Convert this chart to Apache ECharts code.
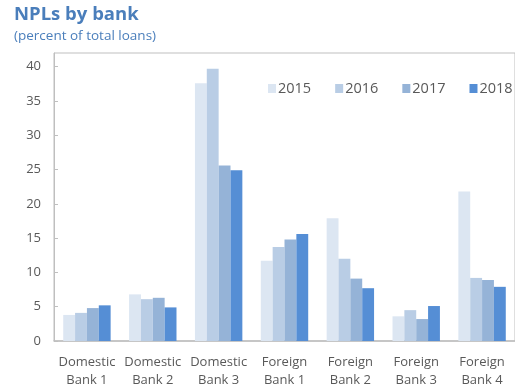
<!DOCTYPE html>
<html>
<head>
<meta charset="utf-8">
<script src="https://cdn.jsdelivr.net/npm/echarts@6/dist/echarts.min.js"></script>
<style>
  html, body { margin: 0; padding: 0; background: #fff; }
  #chart { width: 515px; height: 389px; }
</style>
</head>
<body>
<div id="chart"></div>
<script>
// Non-performing loans by bank, percent of total loans
const categories = ['Domestic\nBank 1', 'Domestic\nBank 2', 'Domestic\nBank 3',
                    'Foreign\nBank 1', 'Foreign\nBank 2', 'Foreign\nBank 3', 'Foreign\nBank 4'];
const years = ['2015', '2016', '2017', '2018'];
const npl2015 = [3.8, 6.8, 37.6, 11.7, 17.9, 3.6, 21.8];
const npl2016 = [4.1, 6.1, 39.7, 13.7, 12.0, 4.5, 9.2];
const npl2017 = [4.8, 6.3, 25.6, 14.8, 9.1, 3.2, 8.9];
const npl2018 = [5.2, 4.9, 24.9, 15.6, 7.7, 5.1, 7.9];
const yearValues = [npl2015, npl2016, npl2017, npl2018];

const colors = ['#dce6f2', '#b9cde5', '#95b3d7', '#558ed5'];
const font = '"Open Sans", "Noto Sans", sans-serif';

const chart = echarts.init(document.getElementById('chart'), null, { renderer: 'canvas' });
chart.setOption({
  animation: false,
  color: colors,
  title: {
    text: 'NPLs by bank',
    subtext: '(percent of total loans)',
    left: 9,
    top: 0,
    itemGap: 5,
    textStyle: { fontFamily: font, fontSize: 18.5, fontWeight: 'bold', color: '#4a7ebb' },
    subtextStyle: { fontFamily: font, fontSize: 13.5, color: '#4a7ebb' }
  },
  legend: {
    data: years,
    left: 268,
    top: 81,
    width: 260,
    padding: 0,
    itemWidth: 8,
    itemHeight: 9,
    itemGap: 24,
    icon: 'rect',
    textStyle: { fontFamily: font, fontSize: 14.5, color: '#595959', padding: [0, 0, 0, -3] }
  },
  grid: {
    left: 54,
    right: -6,
    top: 53,
    bottom: 48,
    show: true,
    borderColor: '#bfbfbf',
    borderWidth: 1,
    containLabel: false
  },
  xAxis: {
    type: 'category',
    data: categories,
    axisLine: { lineStyle: { color: '#bfbfbf', width: 1.5 } },
    axisTick: { inside: true, length: 4, lineStyle: { color: '#bfbfbf' } },
    axisLabel: {
      fontFamily: font, fontSize: 13, color: '#595959',
      lineHeight: 18, margin: 12, interval: 0
    }
  },
  yAxis: {
    type: 'value',
    min: 0,
    max: 42,
    interval: 5,
    splitLine: { show: false },
    axisLine: { show: true, lineStyle: { color: '#bfbfbf' } },
    axisTick: { show: true, inside: true, length: 4, lineStyle: { color: '#bfbfbf' } },
    axisLabel: {
      fontFamily: font, fontSize: 13, color: '#595959', margin: 13,
      showMaxLabel: false
    }
  },
  series: years.map((y, i) => ({
    name: y,
    type: 'bar',
    data: yearValues[i],
    barGap: '0%',
    barCategoryGap: '28%',
    itemStyle: { color: colors[i] }
  }))
});
</script>
</body>
</html>
